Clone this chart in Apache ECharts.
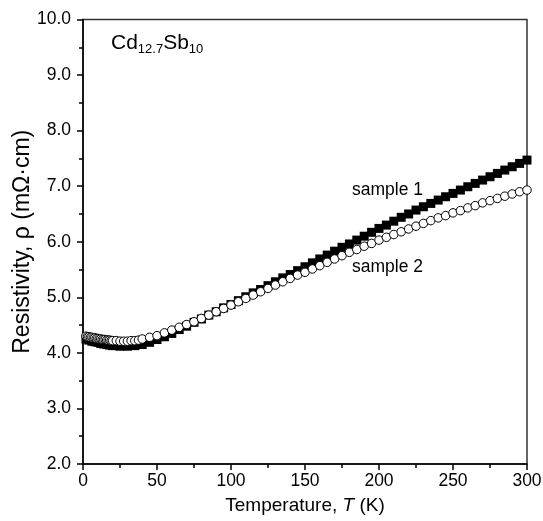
<!DOCTYPE html>
<html>
<head>
<meta charset="utf-8">
<script src="https://cdn.jsdelivr.net/npm/echarts@6/dist/echarts.min.js"></script>
<style>html,body{margin:0;padding:0;background:#fff;}#c{width:543px;height:521px;}</style>
</head>
<body>
<div id="c"></div>
<script>
const tempS1 = [2,4,6,8,10,12,14,16,18,20,25,30,35,40,45,50,55,60,65,70,75,80,85,90,95,100,105,110,115,120,125,130,135,140,145,150,155,160,165,170,175,180,185,190,195,200,205,210,215,220,225,230,235,240,245,250,255,260,265,270,275,280,285,290,295,300];
const rhoS1 = [4.25,4.23,4.21,4.20,4.19,4.17,4.16,4.15,4.14,4.13,4.12,4.12,4.13,4.15,4.19,4.24,4.29,4.35,4.42,4.48,4.55,4.61,4.68,4.74,4.81,4.87,4.94,5.01,5.08,5.14,5.21,5.28,5.35,5.41,5.48,5.55,5.62,5.69,5.76,5.83,5.90,5.96,6.03,6.10,6.17,6.24,6.30,6.37,6.44,6.50,6.57,6.63,6.69,6.75,6.81,6.87,6.93,6.99,7.05,7.11,7.17,7.23,7.29,7.35,7.41,7.47];
const tempS2 = [2,3,4,5,6,7,8,9,10,11,12,13,14,15,16,17,18,19,20,22.5,25,27.5,30,32.5,35,37.5,40,45,50,55,60,65,70,75,80,85,90,95,100,105,110,115,120,125,130,135,140,145,150,155,160,165,170,175,180,185,190,195,200,205,210,215,220,225,230,235,240,245,250,255,260,265,270,275,280,285,290,295,300];
const rhoS2 = [4.30,4.29,4.29,4.28,4.28,4.27,4.27,4.26,4.26,4.25,4.25,4.24,4.24,4.24,4.23,4.23,4.23,4.22,4.22,4.22,4.21,4.21,4.21,4.22,4.22,4.23,4.25,4.28,4.31,4.36,4.41,4.46,4.51,4.56,4.62,4.68,4.74,4.80,4.86,4.92,4.98,5.04,5.10,5.16,5.22,5.28,5.34,5.40,5.45,5.51,5.57,5.63,5.69,5.75,5.81,5.86,5.92,5.97,6.03,6.08,6.13,6.18,6.23,6.28,6.33,6.38,6.43,6.47,6.52,6.56,6.61,6.65,6.70,6.74,6.78,6.82,6.86,6.90,6.93];
const xTicks = {min: 0, max: 300, interval: 50};
const yTicks = {min: 2, max: 10, interval: 1};
const seriesNames = ['sample 1', 'sample 2'];

const FONT = 'Arial, "Liberation Sans", sans-serif';
const chart = echarts.init(document.getElementById('c'), null, {renderer: 'canvas'});
const axisLine = {lineStyle: {color: '#000', width: 1.5}};
chart.setOption({
  animation: false,
  backgroundColor: '#fff',
  grid: {left: 83, right: 16, top: 19.5, bottom: 57, containLabel: false, outerBoundsMode: 'none', show: true, borderColor: '#333', borderWidth: 1.5, backgroundColor: 'transparent'},
  xAxis: {
    type: 'value', min: xTicks.min, max: xTicks.max, interval: xTicks.interval,
    axisLine: axisLine,
    axisTick: {show: true, inside: false, length: 6, lineStyle: {color: '#000', width: 1.5}},
    minorTick: {show: true, splitNumber: 2, length: 4, lineStyle: {color: '#000', width: 1.5}},
    splitLine: {show: false},
    axisLabel: {color: '#000', fontSize: 17.5, fontFamily: FONT, margin: 8},
    name: '{n|Temperature, }{i|T}{n| (K)}',
    nameLocation: 'middle', nameGap: 32, nameMoveOverlap: false,
    nameTextStyle: {rich: {n: {fontSize: 19, fontFamily: FONT, color: '#000'}, i: {fontSize: 19, fontFamily: FONT, fontStyle: 'italic', color: '#000'}}}
  },
  yAxis: {
    type: 'value', min: yTicks.min, max: yTicks.max, interval: yTicks.interval,
    axisLine: axisLine,
    axisTick: {show: true, inside: false, length: 6, lineStyle: {color: '#000', width: 1.5}},
    minorTick: {show: true, splitNumber: 2, length: 4, lineStyle: {color: '#000', width: 1.5}},
    splitLine: {show: false},
    axisLabel: {color: '#000', fontSize: 17.5, fontFamily: FONT, margin: 12, formatter: v => v.toFixed(1)},
    name: 'Resistivity, ρ (mΩ·cm)',
    nameLocation: 'middle', nameGap: 49, nameRotate: 90, nameMoveOverlap: false,
    nameTextStyle: {fontSize: 23, fontFamily: FONT, color: '#000'}
  },
  series: [
    {
      name: seriesNames[0], type: 'scatter', symbol: 'rect', symbolSize: 9,
      itemStyle: {color: '#000', opacity: 1},
      data: tempS1.map((t, i) => [t, rhoS1[i]]), z: 2
    },
    {
      name: seriesNames[1], type: 'scatter', symbol: 'circle', symbolSize: 8.5,
      itemStyle: {color: '#fff', borderColor: '#000', borderWidth: 1, opacity: 1},
      data: tempS2.map((t, i) => [t, rhoS2[i]]), z: 3
    }
  ],
  graphic: [
    {type: 'text', left: 111, top: 33, style: {
      text: '{a|Cd}{b|12.7}{a|Sb}{b|10}',
      rich: {
        a: {fontSize: 21, fontFamily: FONT, fill: '#000', height: 28, verticalAlign: 'bottom'},
        b: {fontSize: 13, fontFamily: FONT, fill: '#000', height: 28, verticalAlign: 'bottom', padding: [0,0,-6,0]}
      }
    }},
    {type: 'text', left: 352, top: 181, style: {text: seriesNames[0], fontSize: 17.5, fontFamily: FONT, fill: '#000'}},
    {type: 'text', left: 352, top: 258, style: {text: seriesNames[1], fontSize: 17.5, fontFamily: FONT, fill: '#000'}}
  ]
});
</script>
</body>
</html>
